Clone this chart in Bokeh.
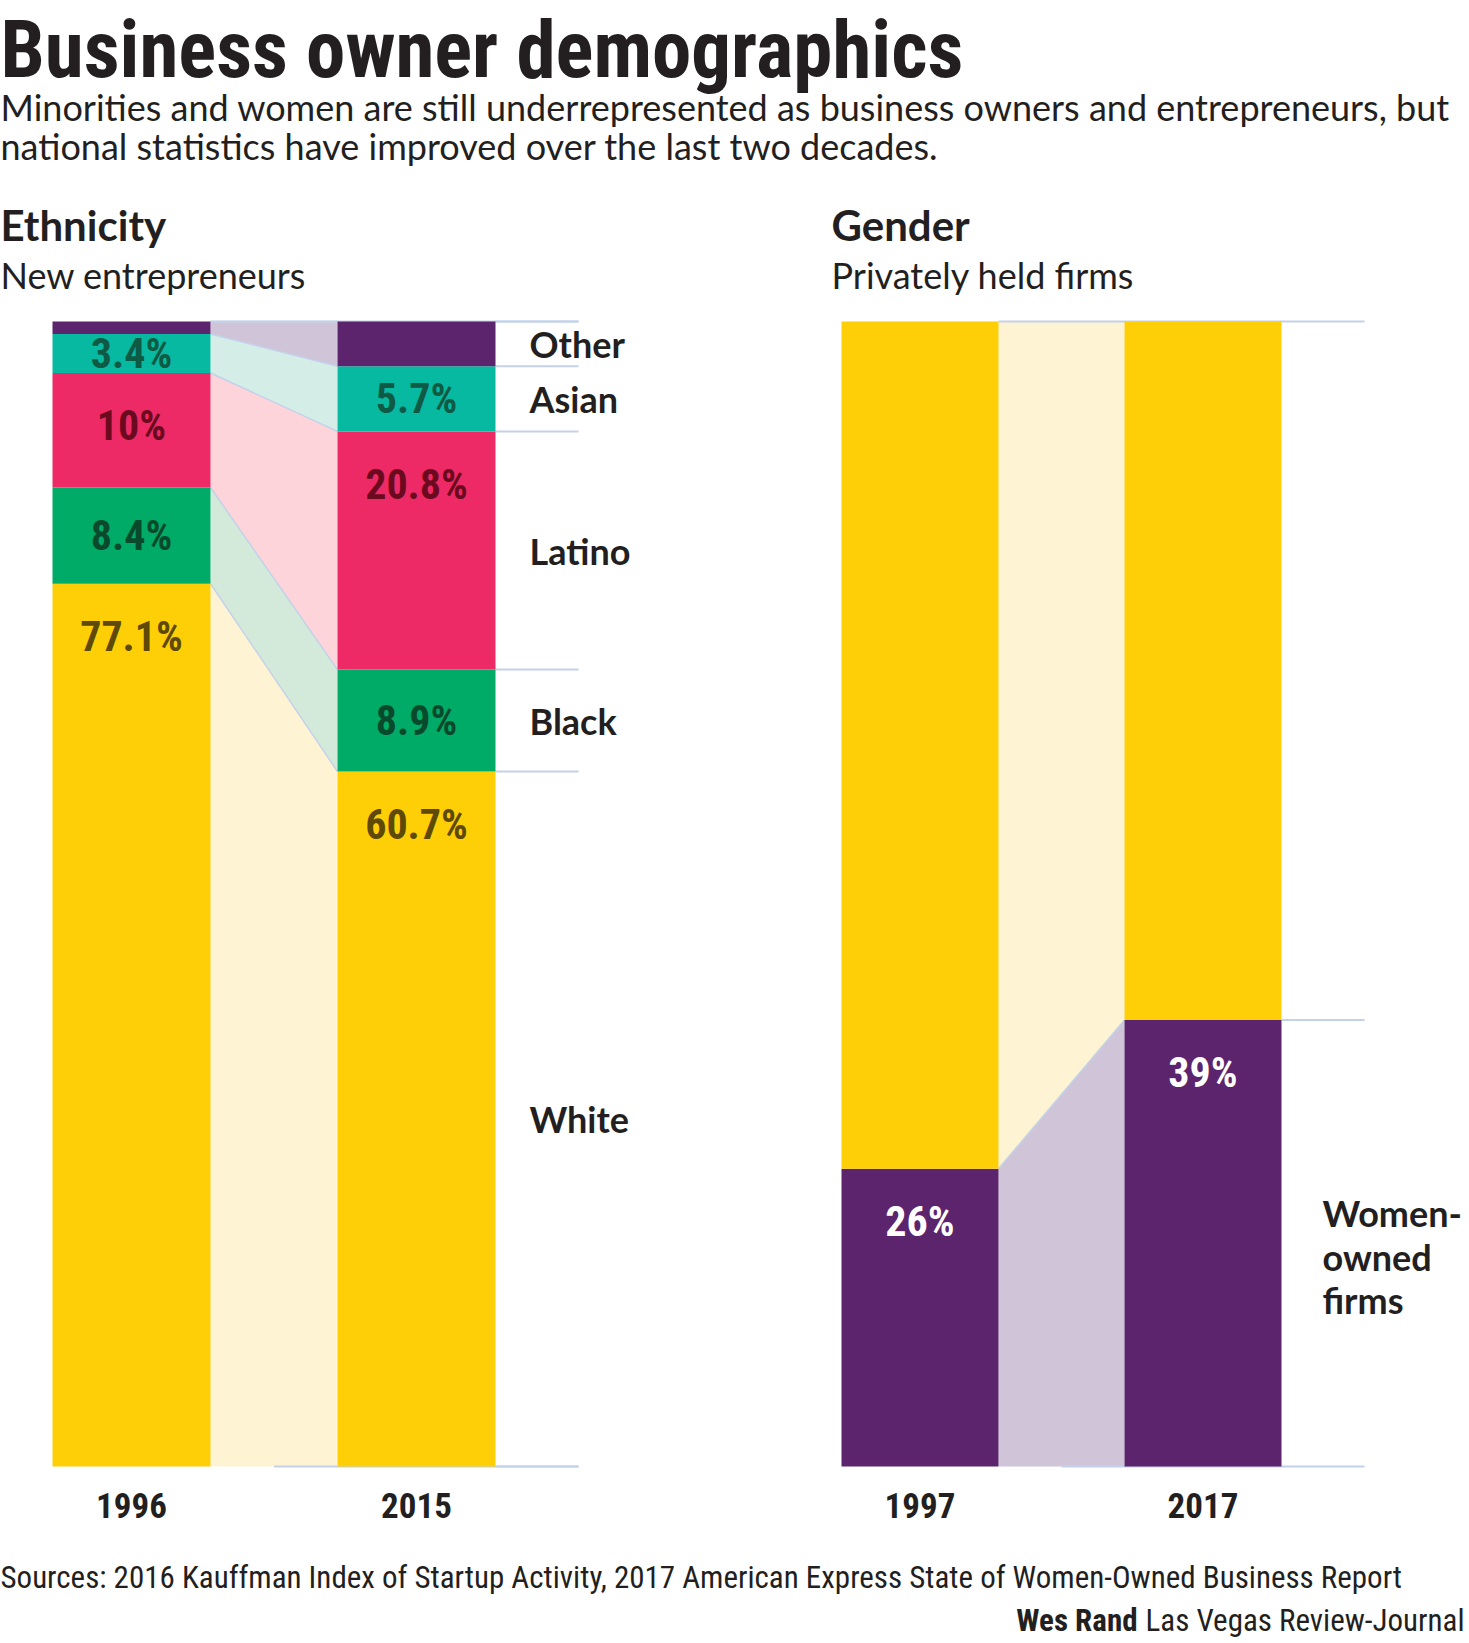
from bokeh.plotting import figure
from bokeh.models import Range1d
from bokeh.core.properties import value
from bokeh.embed import file_html
from bokeh.resources import INLINE

# ---------------- data ----------------
eth_categories = ["White", "Black", "Latino", "Asian", "Other"]
eth_years = ["1996", "2015"]
eth_1996 = [77.1, 8.4, 10.0, 3.4, 1.1]
eth_2015 = [60.7, 8.9, 20.8, 5.7, 3.9]
eth_show_value = [True, True, True, True, False]

gender_years = ["1997", "2017"]
women_owned = [26, 39]

title = "Business owner demographics"
subtitle = ["Minorities and women are still underrepresented as business owners and entrepreneurs, but",
            "national statistics have improved over the last two decades."]
source = "Sources: 2016 Kauffman Index of Startup Activity, 2017 American Express State of Women-Owned Business Report"

# ---------------- styles ----------------
COND = "Roboto Condensed, Roboto, sans-serif"
SANS = "Lato"
INK = "#231f20"
GRID = "#c3d2ea"
eth_colors = {"White": "#fecf06", "Black": "#00ab67", "Latino": "#ee2a66", "Asian": "#08b9a1", "Other": "#5b246d"}
eth_light = {"White": "#fef3d2", "Black": "#d3eada", "Latino": "#fcd4d9", "Asian": "#d4ede7", "Other": "#d0c4d8"}
eth_dark = {"White": "#5e4a06", "Black": "#0a4a2c", "Latino": "#6b0a1e", "Asian": "#0e5a45", "Other": "#ffffff"}
MEN_C, MEN_L = "#fecf06", "#fef3d2"
WOM_C, WOM_L = "#5b246d", "#d0c4d8"

# ---------------- layout (pixel coordinates) ----------------
W, H = 1469, 1643
BASE_Y, UNIT = 1466, 11.45
def yref(py):
    return (BASE_Y - py) / UNIT

E1 = (52, 210)
E2 = (337, 495)
E_EXT = 578
G1 = (841, 998)
G2 = (1124, 1281)
G_EXT = 1364
LABEL_OFFSET = 4.6

p = figure(width=W, height=H, x_range=Range1d(0, W), y_range=Range1d(yref(H), yref(0)),
           output_backend="svg", toolbar_location=None, min_border=0,
           x_axis_location=None, y_axis_location=None)
p.grid.visible = False
p.outline_line_color = None


def cum(vals):
    b, out = 0.0, []
    for v in vals:
        out.append((b, b + v))
        b += v
    return out


def txt(x, y, t, font, size, color=INK, style="normal", align="left"):
    p.text(x=[x], y=[y], text=[t], text_font=value(font), text_font_size=f"{size}px",
           text_font_style=style, text_color=color, text_align=align, text_baseline="middle")


# ---------- Ethnicity ----------
c1 = cum(eth_1996)
c2 = cum(eth_2015)
xs, ys, fills = [], [], []
for i, cat in enumerate(eth_categories):
    xs.append([E1[1], E2[0], E2[0], E1[1]])
    ys.append([c1[i][0], c2[i][0], c2[i][1], c1[i][1]])
    fills.append(eth_light[cat])
p.patches(xs=xs, ys=ys, fill_color=fills, line_color=None)
p.segment(x0=[E1[1]] * len(c1), y0=[c[1] for c in c1], x1=[E2[0]] * len(c2), y1=[c[1] for c in c2],
          line_color=GRID, line_width=1.5)
tops2 = [0] + [c[1] for c in c2]
p.segment(x0=[E2[1]] * len(tops2), y0=tops2, x1=[E_EXT] * len(tops2), y1=tops2, line_color=GRID, line_width=2)
p.segment(x0=[E1[1], (E1[1] + E2[0]) / 2], y0=[100, 0], x1=[E_EXT, E_EXT], y1=[100, 0], line_color=GRID, line_width=2)

for (xl, xr), cc in ((E1, c1), (E2, c2)):
    p.quad(left=[xl] * len(cc), right=[xr] * len(cc), bottom=[c[0] for c in cc], top=[c[1] for c in cc],
           fill_color=[eth_colors[c] for c in eth_categories], line_color=None)

for (xl, xr), cc, vals in ((E1, c1, eth_1996), (E2, c2, eth_2015)):
    for i, cat in enumerate(eth_categories):
        if not eth_show_value[i]:
            continue
        b, t = cc[i]
        yy = max((b + t) / 2, t - LABEL_OFFSET)
        txt((xl + xr) / 2, yy, f"{vals[i]:g}%", COND, 42, eth_dark[cat], "bold", "center")

for i, cat in enumerate(eth_categories):
    b, t = c2[i]
    txt(529, (b + t) / 2, cat, SANS, 36, INK, "bold")

for (xl, xr), yr in zip((E1, E2), eth_years):
    txt((xl + xr) / 2, yref(1505), yr, COND, 35, INK, "bold", "center")

# ---------- Gender ----------
p.patches(xs=[[G1[1], G2[0], G2[0], G1[1]], [G1[1], G2[0], G2[0], G1[1]]],
          ys=[[0, 0, women_owned[1], women_owned[0]], [women_owned[0], women_owned[1], 100, 100]],
          fill_color=[WOM_L, MEN_L], line_color=None)
p.segment(x0=[G1[1]], y0=[women_owned[0]], x1=[G2[0]], y1=[women_owned[1]], line_color=GRID, line_width=1.5)
p.segment(x0=[G2[1], G1[1], (G1[1] + G2[0]) / 2], y0=[women_owned[1], 100, 0],
          x1=[G_EXT, G_EXT, G_EXT], y1=[women_owned[1], 100, 0], line_color=GRID, line_width=2)
for (xl, xr), w in zip((G1, G2), women_owned):
    p.quad(left=[xl, xl], right=[xr, xr], bottom=[0, w], top=[w, 100], fill_color=[WOM_C, MEN_C], line_color=None)
    txt((xl + xr) / 2, max(w / 2, w - LABEL_OFFSET), f"{w:g}%", COND, 42, "#ffffff", "bold", "center")

for (xl, xr), yr in zip((G1, G2), gender_years):
    txt((xl + xr) / 2, yref(1505), yr, COND, 35, INK, "bold", "center")

for line, py in zip(["Women-", "owned", "firms"], [1212, 1256, 1299]):
    txt(1322, yref(py), line, SANS, 36, INK, "bold")

# ---------- headings ----------
txt(0, yref(49), title, COND, 79, INK, "bold")
txt(0, yref(106), subtitle[0], SANS, 36, INK)
txt(0, yref(145), subtitle[1], SANS, 36, INK)
txt(0, yref(224), "Ethnicity", SANS, 42, INK, "bold")
txt(0, yref(274), "New entrepreneurs", SANS, 36, INK)
txt(831, yref(224), "Gender", SANS, 42, INK, "bold")
txt(831, yref(274), "Privately held firms", SANS, 36, INK)

txt(0, yref(1577), source, COND, 31, INK)
txt(1464, yref(1620), "Las Vegas Review-Journal", COND, 31, INK, "normal", "right")
txt(1137, yref(1620), "Wes Rand", COND, 31, INK, "bold", "right")

open("out.html", "w").write(file_html(p, INLINE))
